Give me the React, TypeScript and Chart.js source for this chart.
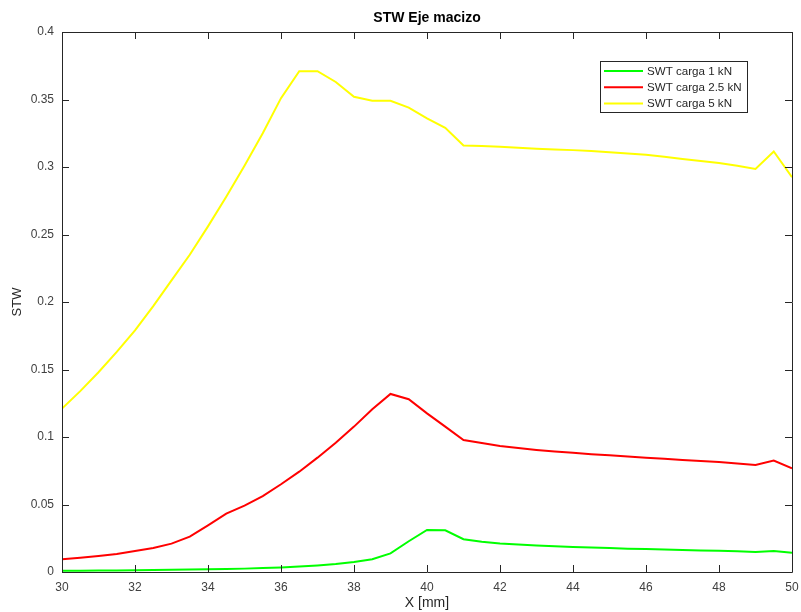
import React, { useEffect, useRef } from "react";
import { Chart, registerables } from "chart.js";

Chart.register(...registerables);

// Position along the shaft [mm]
const xPositions = [
  30, 30.5, 31, 31.5, 32, 32.5, 33, 33.5, 34, 34.5, 35, 35.5, 36, 36.5, 37, 37.5,
  38, 38.5, 39, 39.5, 40, 40.5, 41, 41.5, 42, 42.5, 43, 43.5, 44, 44.5, 45, 45.5,
  46, 46.5, 47, 47.5, 48, 48.5, 49, 49.5, 50,
];

// SWT parameter, load 1 kN
const swt1kN = [
  0.001, 0.001, 0.0011, 0.0012, 0.0013, 0.0015, 0.0016, 0.0018, 0.002, 0.0022,
  0.0025, 0.0029, 0.0034, 0.004, 0.0048, 0.0059, 0.0074, 0.0094, 0.0138, 0.0228,
  0.0311, 0.0309, 0.0243, 0.0224, 0.0212, 0.0204, 0.0197, 0.0191, 0.0186, 0.0181,
  0.0177, 0.0173, 0.017, 0.0166, 0.0163, 0.016, 0.0157, 0.0153, 0.0149, 0.0156,
  0.0143,
];

// SWT parameter, load 2.5 kN
const swt25kN = [
  0.0094, 0.0105, 0.0118, 0.0134, 0.0155, 0.0178, 0.021, 0.0262, 0.0345, 0.0432,
  0.0492, 0.0562, 0.065, 0.0743, 0.0847, 0.0958, 0.1077, 0.1205, 0.1319, 0.128,
  0.1175, 0.1077, 0.0978, 0.0955, 0.0934, 0.0918, 0.0904, 0.0893, 0.0883, 0.0873,
  0.0864, 0.0855, 0.0847, 0.0838, 0.083, 0.0822, 0.0814, 0.0804, 0.0793, 0.0826,
  0.0768,
];

// SWT parameter, load 5 kN
const swt5kN = [
  0.121, 0.134, 0.148, 0.163, 0.179, 0.197, 0.216, 0.235, 0.256, 0.278, 0.301,
  0.325, 0.351, 0.371, 0.371, 0.363, 0.352, 0.349, 0.349, 0.344, 0.336, 0.329,
  0.316, 0.3155, 0.315, 0.3142, 0.3135, 0.313, 0.3125, 0.3118, 0.311, 0.31, 0.309,
  0.3076, 0.306, 0.3045, 0.303, 0.301, 0.2985, 0.3115, 0.2925,
];

const seriesLabels = ["SWT carga 1 kN", "SWT carga 2.5 kN", "SWT carga 5 kN"];
const seriesColors = ["#00ff00", "#ff0000", "#ffff00"];

const chartTitle = "STW Eje macizo";
const xTitle = "X [mm]";
const yTitle = "STW";

const FONT = "'Liberation Sans', Arial, Helvetica, sans-serif";
const AXIS_COLOR = "#262626";
const LABEL_COLOR = "#404040";

const toPoints = (ys: number[]) => xPositions.map((x, i) => ({ x, y: ys[i] }));

// Box around the axes, inward ticks on all four sides, and the legend box.
const matlabAxesPlugin = {
  id: "matlabAxes",
  afterDraw(chart: any) {
    const { ctx, chartArea } = chart;
    const { left, right, top, bottom } = chartArea;
    const xs = chart.scales.x;
    const ys = chart.scales.y;
    const tick = 7;
    ctx.save();
    ctx.strokeStyle = AXIS_COLOR;
    ctx.lineWidth = 1;
    ctx.beginPath();
    ctx.rect(Math.round(left) + 0.5, Math.round(top) + 0.5, Math.round(right - left), Math.round(bottom - top));
    ctx.stroke();
    ctx.beginPath();
    xs.ticks.forEach((t: any) => {
      const px = Math.round(xs.getPixelForValue(t.value)) + 0.5;
      ctx.moveTo(px, bottom);
      ctx.lineTo(px, bottom - tick);
      ctx.moveTo(px, top);
      ctx.lineTo(px, top + tick);
    });
    ys.ticks.forEach((t: any) => {
      const py = Math.round(ys.getPixelForValue(t.value)) + 0.5;
      ctx.moveTo(left, py);
      ctx.lineTo(left + tick, py);
      ctx.moveTo(right, py);
      ctx.lineTo(right - tick, py);
    });
    ctx.stroke();

    // Legend
    const lx = 600.5;
    const ly = 61.5;
    const lw = 147;
    const lh = 51;
    ctx.fillStyle = "#ffffff";
    ctx.fillRect(lx, ly, lw, lh);
    ctx.strokeStyle = AXIS_COLOR;
    ctx.lineWidth = 1;
    ctx.strokeRect(lx, ly, lw, lh);
    ctx.font = `11.6px ${FONT}`;
    ctx.textBaseline = "middle";
    ctx.textAlign = "left";
    chart.data.datasets.forEach((ds: any, i: number) => {
      const rowY = 71 + i * 16.3;
      ctx.strokeStyle = ds.borderColor;
      ctx.lineWidth = 2;
      ctx.beginPath();
      ctx.moveTo(604, rowY);
      ctx.lineTo(643, rowY);
      ctx.stroke();
      ctx.fillStyle = AXIS_COLOR;
      ctx.fillText(ds.label, 647, rowY + 0.5);
    });
    ctx.restore();
  },
};

export default function App() {
  const canvasRef = useRef<HTMLCanvasElement | null>(null);

  useEffect(() => {
    document.body.style.margin = "0";
    const canvas = canvasRef.current;
    if (!canvas) return;
    const chart = new Chart(canvas, {
      type: "line",
      data: {
        datasets: [swt1kN, swt25kN, swt5kN].map((ys, i) => ({
          label: seriesLabels[i],
          data: toPoints(ys),
          borderColor: seriesColors[i],
          backgroundColor: seriesColors[i],
          borderWidth: 2,
          pointRadius: 0,
          tension: 0,
          fill: false,
        })),
      },
      options: {
        animation: false,
        responsive: false,
        maintainAspectRatio: false,
        devicePixelRatio: 1,
        layout: { padding: { left: 0, right: 9, top: 0, bottom: 0 } },
        plugins: {
          legend: { display: false },
          tooltip: { enabled: false },
          title: {
            display: true,
            text: chartTitle,
            fullSize: false,
            color: "#000000",
            font: { family: FONT, size: 14, weight: "bold" },
            padding: { top: 10, bottom: 5.2 },
          },
        },
        scales: {
          x: {
            type: "linear",
            min: 30,
            max: 50,
            grid: { display: false, drawTicks: false },
            border: { display: false },
            ticks: {
              stepSize: 2,
              padding: 8,
              maxRotation: 0,
              color: LABEL_COLOR,
              font: { family: FONT, size: 12 },
            },
            title: {
              display: true,
              text: xTitle,
              color: AXIS_COLOR,
              font: { family: FONT, size: 14 },
              padding: { top: 0, bottom: 0 },
            },
            afterFit(scale: any) {
              scale.height = 40;
              scale.paddingLeft = 0;
              scale.paddingRight = 0;
            },
          },
          y: {
            type: "linear",
            min: 0,
            max: 0.4,
            grid: { display: false, drawTicks: false },
            border: { display: false },
            ticks: {
              stepSize: 0.05,
              padding: 8,
              color: LABEL_COLOR,
              font: { family: FONT, size: 12 },
              callback: (v: any) => String(Number(Number(v).toFixed(2))),
            },
            title: {
              display: true,
              text: yTitle,
              color: AXIS_COLOR,
              font: { family: FONT, size: 13 },
              padding: { top: 10, bottom: 0 },
            },
            afterFit(scale: any) {
              scale.width = 62;
            },
          },
        },
      },
      plugins: [matlabAxesPlugin],
    });
    return () => chart.destroy();
  }, []);

  return (
    <div style={{ position: "absolute", left: 0, top: 0, width: 801, height: 612, background: "#ffffff" }}>
      <canvas ref={canvasRef} width={801} height={612} style={{ width: 801, height: 612, display: "block" }} />
    </div>
  );
}
